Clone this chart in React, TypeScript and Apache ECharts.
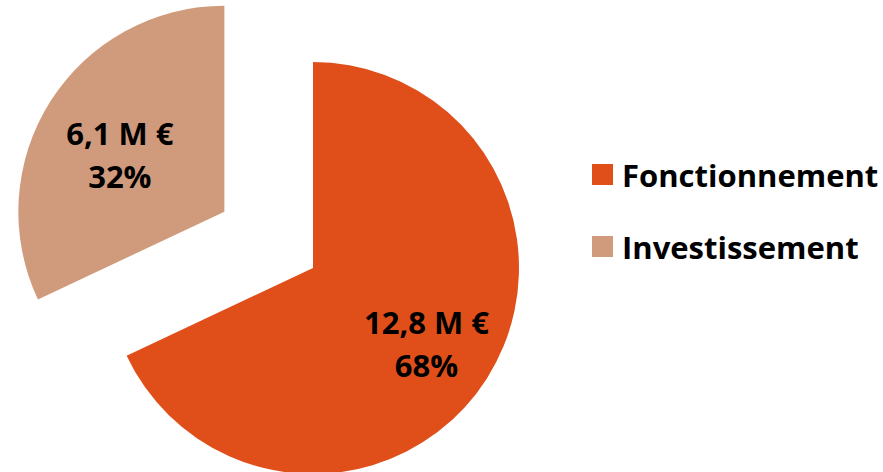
import React, { useEffect, useRef } from "react";
import * as echarts from "echarts";

const categories = ["Fonctionnement", "Investissement"];
const amounts = ["12,8 M €", "6,1 M €"];
const values = [68, 32];
const colors = ["#E04F1A", "#D09B7C"];

export default function App() {
  const ref = useRef<HTMLDivElement>(null);
  useEffect(() => {
    if (!ref.current) return;
    const chart = echarts.init(ref.current, null, { renderer: "svg" });
    const font = "Open Sans";
    chart.setOption({
      animation: false,
      backgroundColor: "#ffffff",
      legend: {
        orient: "vertical",
        left: 592,
        top: 159,
        padding: 0,
        itemWidth: 21,
        itemHeight: 21,
        itemGap: 41,
        icon: "rect",
        selectedMode: false,
        data: categories,
        textStyle: {
          fontFamily: font,
          fontWeight: "bold",
          fontSize: 31,
          lineHeight: 31,
          color: "#000000",
          padding: [0, 0, 0, 4],
        },
      },
      series: [
        {
          type: "pie",
          center: [313, 268],
          radius: 206,
          startAngle: 90,
          clockwise: true,
          selectedMode: "single",
          selectedOffset: 105,
          avoidLabelOverlap: false,
          emphasis: { disabled: true },
          itemStyle: { borderWidth: 0 },
          label: {
            show: true,
            position: "inside",
            fontFamily: font,
            fontWeight: "bold",
            fontSize: 31,
            lineHeight: 43,
            color: "#000000",
            formatter: (p: any) => `${amounts[p.dataIndex]}\n${p.value}%`,
          },
          labelLine: { show: false },
          labelLayout: (p: any) =>
            p.dataIndex === 0 ? { dx: 24, dy: 19 } : { dx: -15, dy: 0 },
          data: categories.map((name, i) => ({
            name,
            value: values[i],
            selected: i === 1,
            itemStyle: { color: colors[i] },
          })),
        },
      ],
    });
    return () => chart.dispose();
  }, []);
  return (
    <div
      ref={ref}
      style={{ position: "absolute", left: 0, top: 0, width: 883, height: 472 }}
    />
  );
}
